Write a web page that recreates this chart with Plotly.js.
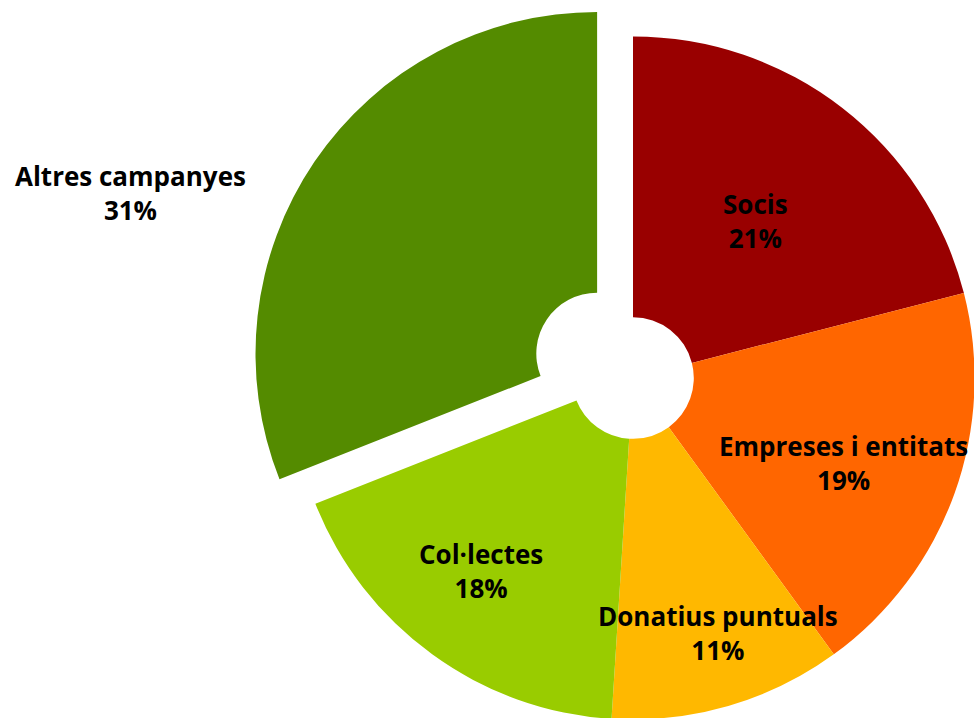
<!DOCTYPE html>
<html><head><meta charset="utf-8">
<script src="https://cdn.plot.ly/plotly-3.0.1.min.js"></script>
<style>
html,body{margin:0;padding:0;overflow:hidden;background:#fff;width:974px;height:718px}
#chart{position:absolute;left:0;top:-7px;width:1020px;height:770px}
</style>
</head><body><div id="chart"></div>
<script>
const categories = ["Socis", "Empreses i entitats", "Donatius puntuals", "Col·lectes", "Altres campanyes"];
const values = [21, 19, 11, 18, 31];
const colors = ["#990000", "#FF6600", "#FFB800", "#99CC00", "#548B00"];
const pulls = [0, 0, 0, 0, 0.127];
// label block centres in page pixels
const labelX = [755, 843, 718, 481, 130];
const labelY = [221, 463, 633, 571, 193];

const W = 1020, H = 770, TOP = -7;
const total = values.reduce((a, b) => a + b, 0);

const annotations = categories.map((c, i) => ({
  xref: 'paper', yref: 'paper',
  x: labelX[i] / W, y: 1 - (labelY[i] - TOP) / H,
  xanchor: 'center', yanchor: 'middle',
  text: c + '<br>' + Math.round(values[i] / total * 100) + '%',
  showarrow: false,
  font: {family: '"Open Sans", sans-serif', size: 26, color: '#000', weight: 'bold'}
}));

const trace = {
  type: 'pie',
  labels: categories,
  values: values,
  sort: false,
  direction: 'clockwise',
  rotation: 0,
  hole: 0.178,
  pull: pulls,
  marker: {colors: colors, line: {width: 0}},
  textinfo: 'none',
  hoverinfo: 'label+percent',
  domain: {x: [248 / W, 1018 / W], y: [0, 1]}
};

Plotly.newPlot('chart', [trace], {
  width: W, height: H,
  margin: {l: 0, r: 0, t: 0, b: 0},
  showlegend: false,
  paper_bgcolor: 'rgba(0,0,0,0)',
  plot_bgcolor: 'rgba(0,0,0,0)',
  annotations: annotations
}, {displayModeBar: false, staticPlot: true});
</script>
</body></html>
